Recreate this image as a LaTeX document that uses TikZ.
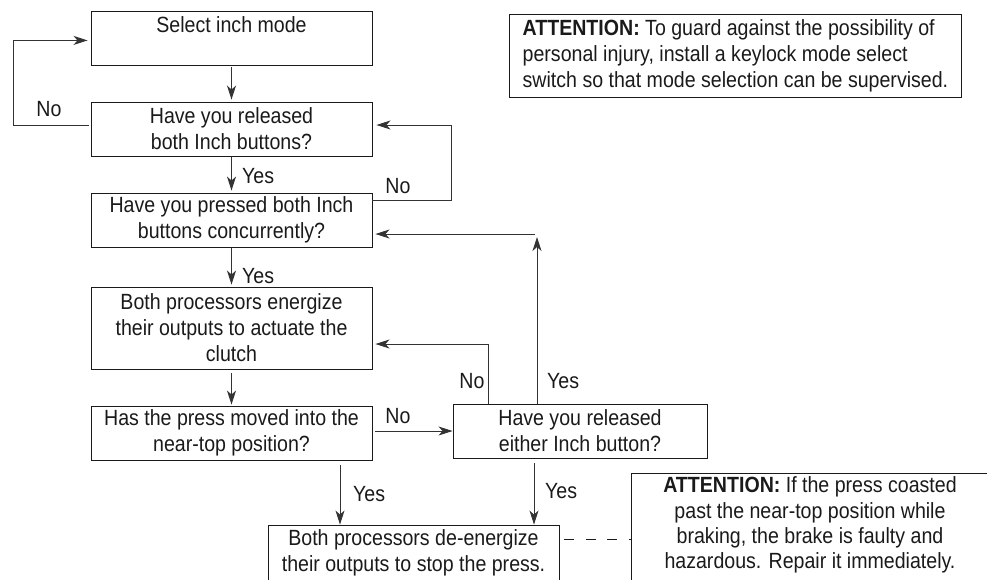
\documentclass[tikz,border=0pt]{standalone}
\usepackage{fontspec}
\setmainfont{Liberation Sans}[FakeStretch=0.89]
\usetikzlibrary{arrows.meta}
\definecolor{ink}{HTML}{1A1A1A}
\definecolor{wire}{HTML}{333333}
\begin{document}
\begin{tikzpicture}[x=1pt,y=-1pt,
  every node/.style={font=\fontsize{22pt}{26pt}\selectfont, text=ink},
  box/.style={draw=ink, line width=0.9pt, align=center, inner xsep=4pt, inner ysep=0pt},
  frame/.style={draw=ink, line width=0.9pt},
  flow/.style={draw=wire, line width=0.9pt, -{Stealth[length=14pt,width=9pt,inset=4pt]}},
  dashline/.style={draw=ink, line width=1.3pt, dash pattern=on 10pt off 11.5pt},
  lbl/.style={inner sep=0pt, text height=16pt, text depth=0pt},
]
\clip (0,0) rectangle (987,579);

% process and decision boxes
\node[box, anchor=north, minimum width=281pt, inner ysep=5pt, text depth=28pt] (b1) at (231.5,11) {Select inch mode};
\node[box, minimum width=281pt, minimum height=54pt] (b2) at (231.5,129) {Have you released\\both Inch buttons?};
\node[box, minimum width=281pt, minimum height=54pt] (b3) at (231.5,220) {Have you pressed both Inch\\buttons concurrently?};
\node[box, minimum width=281pt, minimum height=82pt] (b4) at (231.5,328) {Both processors energize\\their outputs to actuate the\\clutch};
\node[box, minimum width=281pt, minimum height=54pt] (b5) at (231.5,433) {Has the press moved into the\\near-top position?};
\node[box, minimum width=254pt, minimum height=54pt] (b6) at (580,431) {Have you released\\either Inch button?};
\node[box, minimum width=291pt, minimum height=56pt] (b7) at (413.5,553) {Both processors de-energize\\their outputs to stop the press.};

% warnings
\node[box, anchor=north west, minimum width=452pt, minimum height=83pt, align=left] (att1) at (509,14)
  {\textbf{ATTENTION:} To guard against the possibility of\\personal injury, install a keylock mode select\\switch so that mode selection can be supervised.};
\node[align=center, minimum width=356pt, minimum height=102pt, inner sep=0pt,
      font=\fontsize{22pt}{25.3pt}\selectfont] (att2) at (810,525)
  {\textbf{ATTENTION:} If the press coasted\\past the near-top position while\\braking, the brake is faulty and\\hazardous. Repair it immediately.};
\draw[frame] ([yshift=-40pt]att2.south west) -- (att2.north west) -- ([xshift=20pt]att2.north east);

% main downward flow
\draw[flow, shorten <=1pt, shorten >=2pt] (b1) -- (b2);
\draw[flow, shorten <=1pt, shorten >=2pt] (b2) -- (b3);
\draw[flow, shorten <=1pt, shorten >=2pt] (b3) -- (b4);
\draw[flow, shorten <=4pt, shorten >=1pt] (b4) -- (b5);

% loops back up
\draw[flow, shorten <=2pt, shorten >=3pt] ([yshift=4pt]b2.west) -- ++(-77,0) |- ([yshift=-2pt]b1.west);
\draw[flow, shorten >=4pt] ([yshift=20pt]b3.east) -- ++(79,0) |- ([yshift=4pt]b2.east);
\coordinate (turn) at (537,234);
\draw[flow, shorten >=3pt] ([xshift=-43pt]b6.north) -- (turn);
\draw[flow, shorten <=2pt, shorten >=3pt] (turn) -- (turn -| b3.east);
\draw[flow, shorten >=3pt] ([xshift=-92pt]b6.north) |- ([yshift=-16pt]b4.east);

% sideways and final branches
\coordinate (s5) at ([yshift=2pt]b5.east);
\draw[flow, shorten <=3pt] (s5) -- (s5 -| b6.west);
\coordinate (d5) at ([xshift=108.5pt]b5.south);
\draw[flow, shorten <=5pt] (d5) -- (d5 |- b7.north);
\coordinate (d6) at ([xshift=-46pt]b6.south);
\draw[flow, shorten <=5pt] (d6) -- (d6 |- b7.north);
\coordinate (dashstart) at ([xshift=5pt,yshift=-15pt]b7.north east);
\draw[dashline] (dashstart) -- (dashstart -| att2.west);

% branch labels
\node[lbl] (noA) at (49,108) {No};
\node[lbl, anchor=west] (yesA) at (242,175) {Yes};
\node[lbl] (noB) at (398,185) {No};
\node[lbl, anchor=west] (yesB) at (242,275) {Yes};
\node[lbl] (noC) at (472,380) {No};
\node[lbl, anchor=west] (yesC) at (547,380) {Yes};
\node[lbl] (noD) at (398,415) {No};
\node[lbl, anchor=west] (yesD) at (353,493) {Yes};
\node[lbl, anchor=west] (yesE) at (545,490) {Yes};
\end{tikzpicture}
\end{document}
